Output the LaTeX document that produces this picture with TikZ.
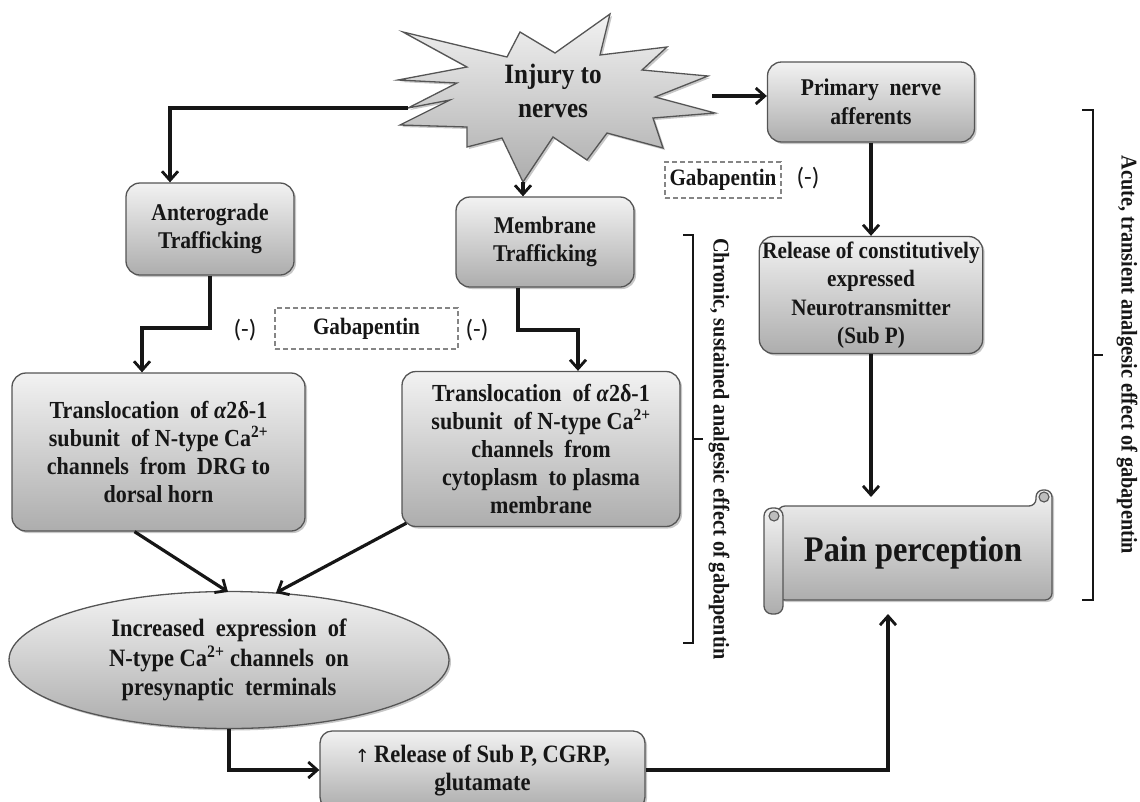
\documentclass[tikz,border=0pt]{standalone}
\usepackage{fontspec}
\setmainfont{Liberation Serif}[FakeStretch=0.9]
\newfontfamily\minusfont{Carlito}
\newfontfamily\arrowfont{DejaVu Sans}
\usetikzlibrary{arrows.meta,shadows,shapes.geometric,calc}
\definecolor{ink}{HTML}{161616}
\definecolor{edgec}{HTML}{555555}
\definecolor{fillA}{HTML}{F2F2F2}
\definecolor{fillB}{HTML}{ADADAD}
\definecolor{dashc}{HTML}{858585}
\newcommand\bxfont{\bfseries\fontsize{24}{28.5}\selectfont}
\newcommand\bigbxfont{\bfseries\fontsize{24.5}{28}\selectfont}
\newcommand\sdfont{\bfseries\fontsize{22.5}{24}\selectfont}
\begin{document}
\begin{tikzpicture}[x=1pt,y=-1pt,
  grayfill/.style={top color=fillA, bottom color=fillB},
  softshadow/.style={drop shadow={shadow xshift=2pt, shadow yshift=-2pt, opacity=0.22, fill=black}},
  box/.style={draw=edgec, line width=1.3pt, rounded corners=14pt, grayfill, softshadow, align=center, text=ink, inner sep=3pt},
  ell/.style={ellipse, draw=edgec, line width=1.3pt, grayfill, softshadow, minimum width=440pt, minimum height=137pt, inner sep=0pt, align=center, text=ink, font=\bfseries\fontsize{25}{29.5}\selectfont},
  arr/.style={draw=ink, line width=3.2pt, -{Straight Barb[length=9pt,width=16pt,line width=2.8pt]}},
  gab/.style={draw=dashc, dash pattern=on 5pt off 3pt, line width=1.2pt, font=\bfseries\fontsize{23.5}{26}\selectfont, text=ink, inner sep=0pt},
  minus/.style={font=\minusfont\fontsize{25}{26}\selectfont, text=ink},
  side/.style={rotate=-90, font=\sdfont, text=ink},
  brk/.style={draw=ink, line width=1.7pt},
]
\useasboundingbox (0,0) rectangle (1140,801);

% --- starburst ---
\path[draw=edgec, line width=1.3pt, grayfill, softshadow]
  (403,32) -- (507,57) -- (520,32) -- (555,53) -- (610,14) -- (600,55)
  -- (667,47) -- (642,70) -- (708,76) -- (655,97) -- (715,113) -- (653,118)
  -- (663,148) -- (607,133) -- (587,160) -- (553,137) -- (523,182) -- (502,138)
  -- (467,147) -- (467,127) -- (400,125) -- (450,100) -- (408,108) -- (457,83)
  -- (398,80) -- (467,67) -- cycle;
\node[font=\bfseries\fontsize{28}{34}\selectfont, text=ink, align=center] (injury) at (553,91) {Injury to\\nerves};
\coordinate (starL) at (408,108);
\coordinate (starB) at (523,182);
\coordinate (starR) at (712,96);

% --- boxes ---
\node[box, font=\bxfont, minimum width=168pt, minimum height=92pt] (antero) at (210,229) {Anterograde\\Trafficking};
\node[box, font=\bxfont, minimum width=178pt, minimum height=90pt] (memb) at (545,242) {Membrane\\Trafficking};
\node[box, font=\bxfont, minimum width=207pt, minimum height=80pt] (prim) at (871,102) {Primary~ nerve\\afferents};
\node[box, font=\bfseries\fontsize{23.5}{28.5}\selectfont, minimum width=215pt, minimum height=117pt] (rel) at (871,295) {Release of constitutively\\expressed\\Neurotransmitter\\(Sub P)};
\node[box, font=\bigbxfont, minimum width=293pt, minimum height=158pt] (transL) at (158.5,452) {Translocation~ of \textit{α}2δ-1\\subunit~ of N-type Ca\textsuperscript{2+}\\channels~ from~ DRG to\\dorsal horn};
\node[box, font=\bigbxfont, minimum width=278pt, minimum height=155pt] (transR) at (541,449) {Translocation~ of \textit{α}2δ-1\\subunit~ of N-type Ca\textsuperscript{2+}\\channels~ from\\cytoplasm~ to plasma\\membrane};
\node[ell] (expr) at (229,660) {Increased~ expression~ of\\N-type Ca\textsuperscript{2+} channels~ on\\presynaptic~ terminals};
\node[box, rounded corners=12pt, font=\bfseries\fontsize{25}{28}\selectfont, minimum width=325pt, minimum height=78pt] (relB) at (482.5,770) {{\arrowfont\mdseries\fontsize{18}{18}\selectfont ↑}\,Release of Sub P, CGRP,\\glutamate};

% --- scroll: pain perception ---
\path[draw=edgec, line width=1.3pt, grayfill, softshadow, rounded corners=7pt]
  (778,506) -- (1036,506) -- (1036,490) -- (1052,490) -- (1052,600) -- (778,600) -- cycle;
\path[draw=edgec, line width=1.1pt, fill=fillB!80] (1044,497) circle[radius=5pt];
\path[draw=edgec, line width=1.3pt, grayfill, rounded corners=8pt] (764,508) rectangle (783,614);
\path[draw=edgec, line width=1.1pt, fill=fillB!80] (774,516) circle[radius=5pt];
\node[font=\bfseries\fontsize{36}{38}\selectfont, text=ink] (pain) at (913,553) {Pain perception};
\coordinate (painTop) at (871,497);
\coordinate (painBot) at (888,614);

% --- gabapentin labels ---
\node[gab, minimum width=116pt, minimum height=36pt] (gabU) at (723,180) {Gabapentin};
\node[gab, minimum width=183pt, minimum height=41pt] (gabL) at (366.5,328.5) {Gabapentin};
\node[minus] (mU) at (808,178) {(-)};
\node[minus] (mL1) at (245,330) {(-)};
\node[minus] (mL2) at (477,330) {(-)};

% --- connectors ---
\coordinate (jA) at (170,108);
\draw[arr] (starL) -- (jA) -- (jA |- antero.north);
\draw[arr] (starB) -- (starB |- memb.north);
\draw[arr] (starR) -- (starR -| prim.west);
\draw[arr] (prim.south) -- (rel.north);
\draw[arr] (rel.south) -- (painTop);
\coordinate (jL) at (142,328);
\draw[arr] (antero.south) |- (jL) -- (jL |- transL.north);
\coordinate (mOut) at ($(memb.south)+(-27,0)$);
\coordinate (jR) at (578,330);
\draw[arr] (mOut) |- (jR) -- (jR |- transR.north);
\coordinate (tLo) at ($(transL.south)+(-24,0)$);
\draw[arr] (tLo) -- ($(expr.north)+(-1,1)$);
\draw[arr] ($(transR.south west)+(5,-4)$) -- ($(expr.north)+(47,2)$);
\draw[arr] (expr.south) |- (relB.west);
\draw[arr] (relB.east) -| (painBot);

% --- brackets ---
\draw[brk] (683,235) -- (693,235) -- (693,643) -- (683,643);
\draw[brk] (693,439) -- (703,439);
\draw[brk] (1082,110) -- (1093,110) -- (1093,600) -- (1082,600);
\draw[brk] (1093,355) -- (1103,355);
\node[side] (chron) at (719,449) {Chronic, sustained analgesic effect of gabapentin};
\node[side] (acute) at (1127,355) {Acute, transient analgesic effect of gabapentin};
\end{tikzpicture}
\end{document}
